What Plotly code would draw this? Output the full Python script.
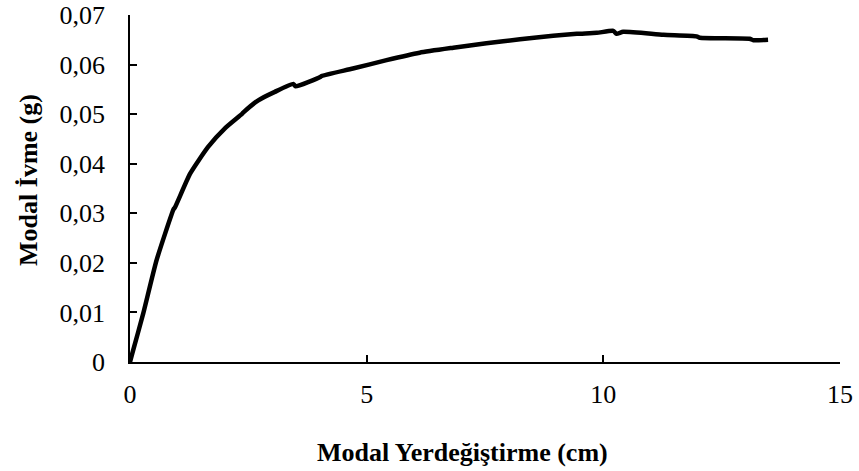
import plotly.graph_objects as go

# Capacity curve in modal coordinates: displacement (cm) vs. spectral acceleration (g)
modal_disp_cm = [
    0.0, 0.05, 0.28, 0.56, 0.92, 0.95, 1.27, 1.65, 2.0, 2.36, 2.39,
    2.71, 3.06, 3.45, 3.50, 4.02, 4.05, 4.71, 5.42, 6.12, 6.83, 7.53, 8.24,
    8.94, 9.44, 9.86, 10.21, 10.28, 10.42, 11.27, 11.97, 12.04, 13.09, 13.17,
    13.48,
]
modal_acc_g = [
    0.0, 0.0018, 0.0098, 0.0205, 0.0308, 0.0312, 0.0380, 0.0434,
    0.0471, 0.0500, 0.0503, 0.0528, 0.0545, 0.0561, 0.0556, 0.0575, 0.0577,
    0.0592, 0.0609, 0.0624, 0.0634, 0.0643, 0.0651, 0.0658, 0.0662, 0.0664,
    0.0668, 0.0662, 0.0666, 0.0660, 0.0657, 0.0654, 0.0652, 0.0649, 0.0650,
]

x_ticks = [0, 5, 10, 15]
x_tick_text = ["0", "5", "10", "15"]
y_ticks = [0, 0.01, 0.02, 0.03, 0.04, 0.05, 0.06, 0.07]
y_tick_text = ["0", "0,01", "0,02", "0,03", "0,04", "0,05", "0,06", "0,07"]

x_title = "Modal Yerdeğiştirme (cm)"
y_title = "Modal İvme (g)"

serif = "Liberation Serif, Times New Roman, serif"

fig = go.Figure()
fig.add_trace(go.Scatter(
    x=modal_disp_cm, y=modal_acc_g, mode="lines",
    line=dict(color="black", width=4.5, shape="spline", smoothing=0.5),
    showlegend=False, hoverinfo="skip",
))

axis_common = dict(
    showgrid=False, zeroline=False, showline=True, linecolor="black",
    linewidth=1.5, ticks="inside", ticklen=7, tickwidth=1.5, tickcolor="black",
    automargin=False,
    tickfont=dict(family=serif, size=26, color="black"),
)

fig.update_xaxes(range=[0, 15], tickvals=x_ticks, ticktext=x_tick_text,
                 ticklabelstandoff=8, **axis_common)
fig.update_yaxes(range=[0, 0.07], tickvals=y_ticks, ticktext=y_tick_text,
                 ticklabelstandoff=18, **axis_common)

fig.add_annotation(text="<b>" + x_title + "</b>", xref="paper", yref="paper",
                   x=0.469, y=-0.2594, showarrow=False, xanchor="center",
                   yanchor="middle",
                   font=dict(family=serif, size=26, color="black"))
fig.add_annotation(text="<b>" + y_title + "</b>", xref="paper", yref="paper",
                   x=-0.1423, y=0.5245, showarrow=False, textangle=-90,
                   xanchor="center", yanchor="middle",
                   font=dict(family=serif, size=26, color="black"))

fig.update_layout(
    width=859, height=471,
    margin=dict(l=130, r=19, t=15, b=109),
    paper_bgcolor="white", plot_bgcolor="white",
)

fig.write_html("out.html")
